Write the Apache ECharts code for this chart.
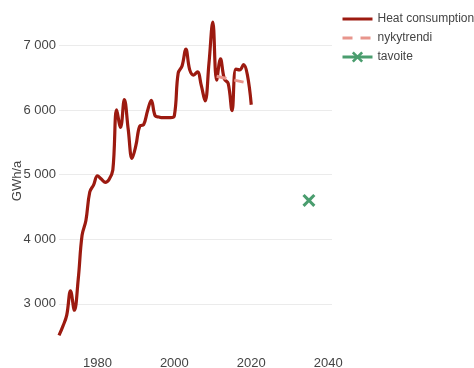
<!DOCTYPE html>
<html>
<head>
<meta charset="utf-8">
<script src="https://cdn.jsdelivr.net/npm/echarts@6/dist/echarts.min.js"></script>
<style>
  html, body { margin: 0; padding: 0; background: #fff; }
  #chart { width: 474px; height: 368px; }
</style>
</head>
<body>
<div id="chart"></div>
<script>
var years = [1970,1971,1972,1973,1974,1975,1976,1977,1978,1979,
             1980,1981,1982,1983,1984,1985,1986,1987,1988,1989,
             1990,1991,1992,1993,1994,1995,1996,1997,1998,1999,
             2000,2001,2002,2003,2004,2005,2006,2007,2008,2009,
             2010,2011,2012,2013,2014,2015,2016,2017,2018,2019,2020];
var heat = [2510,2650,2820,3200,2900,3380,4060,4290,4730,4840,
            4980,4930,4880,4920,5070,6000,5730,6160,5700,5250,
            5450,5750,5770,5980,6150,5910,5890,5880,5880,5880,
            5910,6570,6680,6940,6620,6540,6590,6380,6140,6720,
            7360,6460,6790,6480,6410,5990,6630,6620,6700,6540,6080];
var trendYears = [2011, 2018];
var trend = [6520, 6430];
var goalYears = [2035];
var goal = [4600];
var yTicks = [3000, 4000, 5000, 6000, 7000];
var xTicks = [1980, 2000, 2020, 2040];

function pairs(xs, ys) {
  return xs.map(function (x, i) { return [x, ys[i]]; });
}

var xMark = 'path://M0,1 L1,0 L3,2 L5,0 L6,1 L4,3 L6,5 L5,6 L3,4 L1,6 L0,5 L2,3 Z';

var chart = echarts.init(document.getElementById('chart'));
var option = {
  animation: false,
  textStyle: { fontFamily: 'Liberation Sans, Arial, sans-serif' },
  grid: {
    left: 59, right: 142, top: 13, bottom: 19,
    containLabel: false,
    outerBoundsMode: 'none'
  },
  legend: {
    orient: 'vertical',
    left: 336,
    top: 8,
    itemWidth: 30,
    itemHeight: 14,
    itemGap: 7,
    textStyle: { color: '#444', fontSize: 12 },
    data: [
      { name: 'Heat consumption', itemStyle: { opacity: 0 }, lineStyle: { width: 3 } },
      { name: 'nykytrendi', itemStyle: { opacity: 0 }, lineStyle: { width: 3 } },
      { name: 'tavoite', lineStyle: { width: 3 } }
    ]
  },
  xAxis: {
    type: 'value',
    min: 1970,
    max: 2041,
    axisLine: { show: false },
    axisTick: { show: false, customValues: xTicks },
    splitLine: { show: false },
    axisLabel: {
      customValues: xTicks,
      color: '#444',
      fontSize: 13,
      margin: 8,
      formatter: function (v) { return String(v); }
    }
  },
  yAxis: {
    type: 'value',
    min: 2300,
    max: 7500,
    name: 'GWh/a',
    nameLocation: 'middle',
    nameRotate: 90,
    nameGap: 35,
    nameMoveOverlap: false,
    nameTextStyle: { color: '#444', fontSize: 13 },
    axisLine: { show: false },
    axisTick: { show: false, customValues: yTicks },
    splitLine: { show: true, lineStyle: { color: '#ebebeb', width: 1 } },
    axisLabel: {
      customValues: yTicks,
      color: '#444',
      fontSize: 13,
      margin: 3,
      formatter: function (v) {
        return String(v).replace(/\B(?=(\d{3})+(?!\d))/g, ' ');
      }
    }
  },
  series: [{
    name: 'Heat consumption',
    type: 'line',
    symbol: 'none',
    smooth: 0.4,
    lineStyle: { color: '#9c1a10', width: 3.2 },
    itemStyle: { color: '#9c1a10' },
    data: pairs(years, heat)
  }, {
    name: 'nykytrendi',
    type: 'line',
    symbol: 'none',
    lineStyle: { color: '#e8958c', width: 3, type: [10, 8] },
    itemStyle: { color: '#e8958c' },
    data: pairs(trendYears, trend)
  }, {
    name: 'tavoite',
    type: 'line',
    symbol: xMark,
    symbolSize: 13,
    lineStyle: { color: '#4a9d6e', width: 3 },
    itemStyle: { color: '#4a9d6e' },
    data: pairs(goalYears, goal)
  }]
};
chart.setOption(option);
</script>
</body>
</html>
